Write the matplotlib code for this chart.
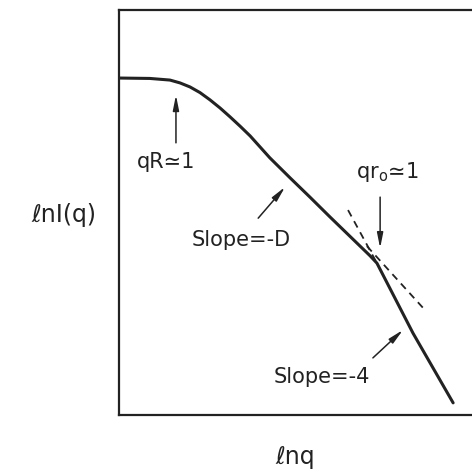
import matplotlib.pyplot as plt

# scattering curve ln I(q) vs ln q (arbitrary units)
lnq = [0.00, 0.77, 1.27, 1.52, 1.77, 2.02, 2.27, 2.52, 2.77, 3.02, 3.27,
       3.76, 4.26, 4.76, 5.26, 5.76, 6.26, 6.43, 7.33, 8.33]
lnI = [8.32, 8.31, 8.27, 8.20, 8.10, 7.96, 7.78, 7.58, 7.36, 7.13, 6.89,
       6.35, 5.86, 5.38, 4.89, 4.41, 3.93, 3.75, 2.02, 0.30]

# dashed extensions of the two power-law regimes
steep_x = [5.71, 6.43]
steep_y = [5.06, 3.75]
fractal_x = [6.18, 7.63]
fractal_y = [4.17, 2.59]

col = '#222222'

fig = plt.figure(figsize=(4.72, 4.71), dpi=100)
ax = fig.add_axes([119 / 472, 56 / 471, 361 / 472, 405 / 471])
ax.plot(lnq, lnI, color=col, lw=2.2, solid_capstyle='round', solid_joinstyle='round')
ax.plot(steep_x, steep_y, color=col, lw=1.3, ls=(0, (4, 3)))
ax.plot(fractal_x, fractal_y, color=col, lw=1.3, ls=(0, (4, 3)))

ax.set_xlim(0, 9)
ax.set_ylim(0, 10)
ax.set_xticks([])
ax.set_yticks([])
for s in ax.spines.values():
    s.set_linewidth(1.6)
    s.set_color(col)

arrow = dict(arrowstyle='-|>,head_length=0.9,head_width=0.18', color=col, lw=1.1,
             shrinkA=0, shrinkB=0)
fs = 15
ax.annotate('', xy=(1.42, 7.90), xytext=(1.42, 6.72), arrowprops=arrow)
ax.text(1.17, 6.25, 'qR≃1', fontsize=fs, color=col, ha='center', va='center')

ax.annotate('', xy=(6.51, 4.12), xytext=(6.51, 5.38), arrowprops=arrow)
ax.text(6.68, 6.00, 'qr$_\\mathregular{o}$≃1', fontsize=fs, color=col, ha='center', va='center')

ax.annotate('', xy=(4.14, 5.63), xytext=(3.47, 4.86), arrowprops=arrow)
ax.text(3.04, 4.32, 'Slope=-D', fontsize=fs, color=col, ha='center', va='center')

ax.annotate('', xy=(7.08, 2.10), xytext=(6.33, 1.41), arrowprops=arrow)
ax.text(5.06, 0.94, 'Slope=-4', fontsize=fs, color=col, ha='center', va='center')

fig.text(64 / 472, 1 - 215 / 471, 'ℓnI(q)', fontsize=17, color=col, ha='center', va='center')
fig.text(295 / 472, 1 - 457 / 471, 'ℓnq', fontsize=17, color=col, ha='center', va='center')

fig.savefig('out.png', dpi=100)
